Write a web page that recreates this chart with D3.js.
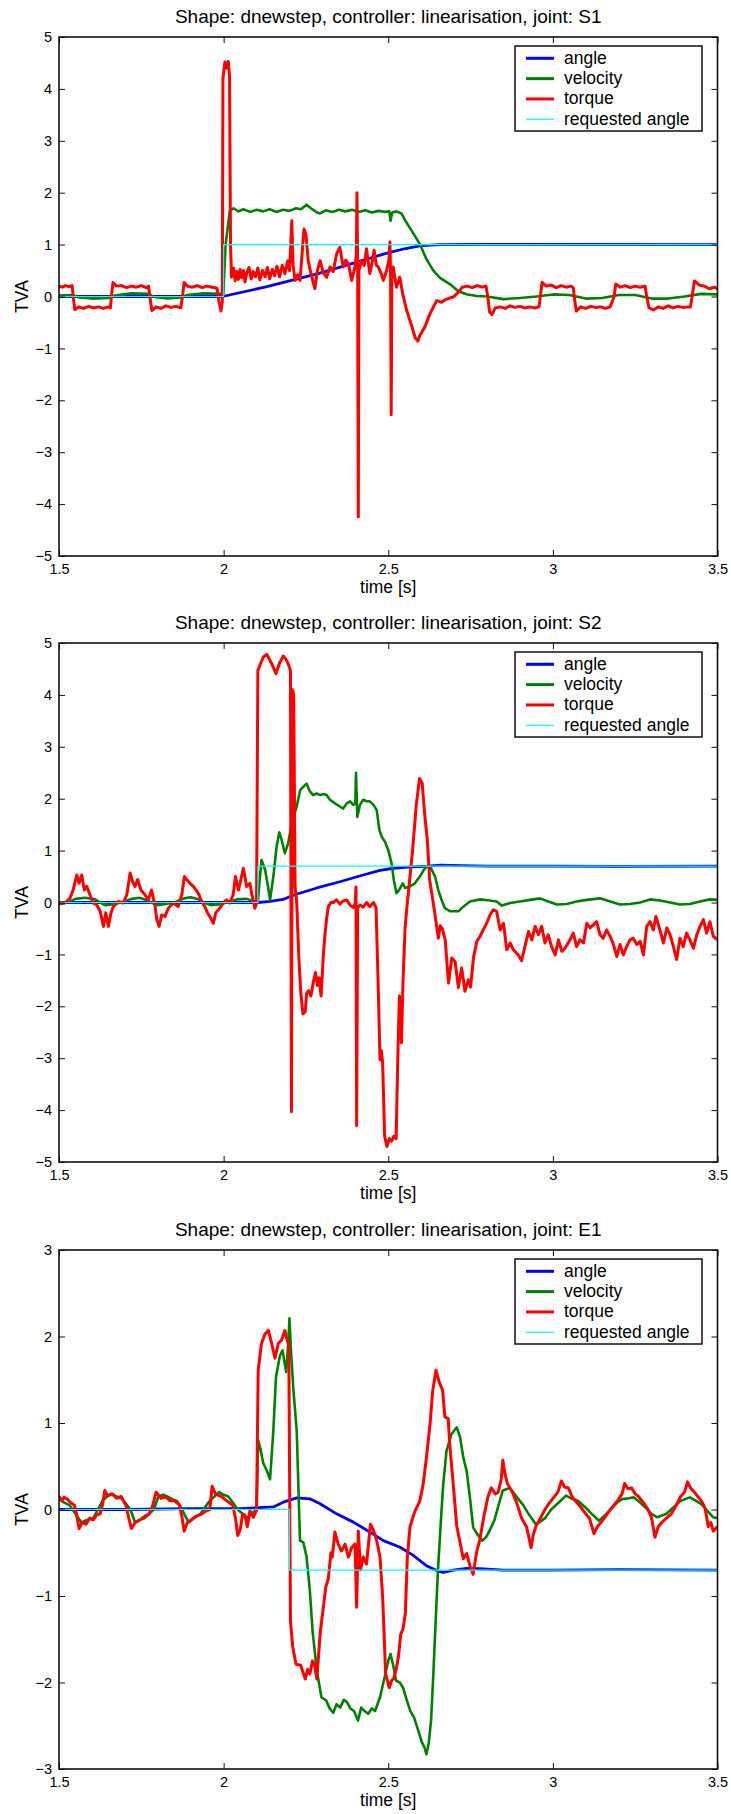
<!DOCTYPE html>
<html>
<head>
<meta charset="utf-8">
<script src="https://cdn.jsdelivr.net/npm/d3@7"></script>
<style>
  body { margin: 0; background: #fff; }
  svg { display: block; font-family: "Liberation Sans", Arial, Helvetica, sans-serif; }
</style>
</head>
<body>
<svg id="chart" width="731" height="1814"></svg>
<script>
// tick values
const timeTicks = [1.5, 2, 2.5, 3, 3.5];
const wideTicks = [-5, -4, -3, -2, -1, 0, 1, 2, 3, 4, 5];
const narrowTicks = [-3, -2, -1, 0, 1, 2, 3];
const seriesNames = ["angle", "velocity", "torque", "requested angle"];
const jointNames = ["S1", "S2", "E1"];

// joint S1, points are [time, value]
const s1Angle = [[1.5,0],[1.997,0],[2.125,0.18],[2.287,0.44],[2.387,0.63],[2.488,0.82],[2.549,0.92],[2.6,0.98],[2.66,1.0],[2.8,1.005],[3.5,1.0]];
const s1Velocity = [[1.5,0.02],[1.54,0.03],[1.56,-0.02],[1.6,-0.04],[1.65,-0.03],[1.67,0.02],[1.72,0.06],[1.77,0.05],[1.79,-0.01],[1.83,-0.04],[1.87,-0.02],[1.89,0.03],[1.94,0.06],[1.99,0.05],[1.999,0.02],[2.006,1.0],[2.019,1.66],
  [2.03,1.7],[2.045,1.64],[2.06,1.68],[2.08,1.63],[2.1,1.67],[2.12,1.64],[2.14,1.68],[2.16,1.63],[2.18,1.67],[2.2,1.65],[2.22,1.7],[2.235,1.68],[2.252,1.77],[2.265,1.7],[2.283,1.62],[2.293,1.6],[2.31,1.66],[2.33,1.63],[2.35,1.67],[2.37,1.64],[2.39,1.67],[2.41,1.63],[2.43,1.66],[2.45,1.62],[2.47,1.65],[2.49,1.63],[2.503,1.64],[2.507,1.46],[2.512,1.62],[2.525,1.64],[2.54,1.6],
  [2.551,1.47],[2.571,1.27],[2.596,1.01],[2.616,0.72],[2.637,0.5],[2.657,0.36],[2.687,0.24],[2.713,0.1],[2.74,0.04],[2.77,0.01],[2.8,0.0],[2.85,-0.05],[2.9,-0.03],[2.95,0.0],[3.0,0.04],[3.05,0.03],[3.1,-0.04],[3.15,-0.03],[3.2,0.03],[3.25,0.03],[3.3,-0.04],[3.35,-0.04],[3.4,0.0],[3.45,0.05],[3.5,0.04]];
const s1Torque = [[1.5,0.2],[1.51,0.18],[1.52,0.21],[1.53,0.19],[1.54,0.21],[1.544,-0.05],[1.548,-0.25],[1.56,-0.2],[1.575,-0.23],[1.59,-0.19],[1.605,-0.22],[1.62,-0.2],[1.635,-0.23],[1.65,-0.2],[1.656,-0.22],[1.66,0.05],[1.664,0.27],[1.675,0.2],[1.69,0.21],[1.705,0.17],[1.72,0.2],[1.735,0.18],[1.75,0.21],[1.765,0.17],[1.772,0.2],[1.777,-0.05],[1.782,-0.27],[1.795,-0.2],[1.81,-0.23],[1.825,-0.18],[1.84,-0.21],[1.855,-0.19],[1.87,-0.22],[1.876,0.05],[1.88,0.27],[1.89,0.2],[1.905,0.18],[1.92,0.21],[1.935,0.17],[1.95,0.2],[1.965,0.18],[1.98,0.16],[1.986,-0.1],[1.992,-0.28],[1.996,-0.1],
  [1.998,4.2],[2.004,4.52],[2.009,4.4],[2.014,4.53],[2.018,4.25],[2.021,1.0],[2.024,0.37],[2.03,0.55],[2.035,0.3],[2.04,0.48],[2.045,0.33],[2.05,0.52],[2.055,0.36],[2.06,0.5],[2.065,0.28],[2.07,0.45],[2.077,0.56],[2.084,0.34],[2.09,0.48],[2.097,0.38],[2.104,0.55],[2.11,0.32],[2.118,0.5],[2.126,0.38],[2.133,0.56],[2.14,0.34],[2.148,0.52],[2.155,0.4],[2.162,0.58],[2.17,0.38],[2.178,0.6],[2.186,0.44],[2.195,0.69],[2.2,0.5],[2.204,1.0],[2.207,1.46],[2.211,0.6],[2.217,0.31],[2.225,0.42],[2.232,0.31],[2.238,0.8],[2.244,1.3],[2.25,1.2],[2.257,0.69],[2.265,0.45],[2.277,0.15],[2.285,0.5],[2.293,0.69],[2.303,0.45],[2.313,0.37],[2.323,0.57],[2.333,0.48],[2.343,0.82],[2.353,0.95],[2.363,0.57],[2.371,0.7],[2.379,0.63],[2.389,0.31],[2.399,0.57],[2.403,0.8],[2.405,2.0],[2.407,0.6],[2.409,-4.25],[2.411,0.5],[2.419,0.69],[2.427,0.6],[2.434,0.92],[2.444,0.44],[2.451,0.65],[2.457,0.89],[2.464,0.6],[2.47,0.57],[2.478,0.45],[2.485,0.31],[2.495,0.5],[2.502,0.7],[2.505,1.05],[2.507,0.5],[2.509,-2.28],[2.511,0.45],[2.515,0.57],[2.525,0.18],[2.535,0.37],[2.544,0.05],[2.556,-0.27],[2.571,-0.56],[2.582,-0.8],[2.59,-0.86],[2.596,-0.75],[2.611,-0.59],[2.627,-0.33],[2.647,-0.08],[2.662,-0.11],[2.677,-0.05],[2.697,-0.01],[2.713,0.08],
  [2.725,0.18],[2.74,0.2],[2.755,0.17],[2.77,0.21],[2.785,0.18],[2.797,0.2],[2.802,0.0],[2.808,-0.3],[2.815,-0.35],[2.825,-0.22],[2.84,-0.2],[2.855,-0.23],[2.87,-0.18],[2.885,-0.21],[2.9,-0.19],[2.915,-0.22],[2.93,-0.2],[2.945,-0.22],[2.958,-0.2],[2.963,0.05],[2.967,0.27],[2.98,0.2],[2.995,0.22],[3.01,0.17],[3.025,0.21],[3.04,0.18],[3.055,0.2],[3.062,0.17],[3.066,-0.05],[3.071,-0.28],[3.085,-0.2],[3.1,-0.23],[3.115,-0.19],[3.13,-0.21],[3.145,-0.2],[3.16,-0.23],[3.174,-0.2],[3.186,0.0],[3.191,0.24],[3.205,0.18],[3.22,0.21],[3.235,0.17],[3.25,0.2],[3.265,0.18],[3.28,0.2],[3.285,0.0],[3.292,-0.22],[3.305,-0.26],[3.32,-0.2],[3.335,-0.23],[3.35,-0.18],[3.365,-0.22],[3.38,-0.19],[3.395,-0.21],[3.41,-0.2],[3.418,-0.2],[3.424,0.05],[3.43,0.3],[3.445,0.22],[3.46,0.2],[3.475,0.15],[3.49,0.18],[3.5,0.15]];
const s1Request = [[1.5,0],[2.0,0],[2.0,1],[3.5,1]];

// joint S2
const s2Angle = [[1.5,0],[1.8,0.0],[2.104,0.0],[2.141,0.02],[2.181,0.06],[2.216,0.15],[2.283,0.28],[2.353,0.40],[2.424,0.53],[2.475,0.62],[2.515,0.66],[2.56,0.68],[2.62,0.70],[2.66,0.72],[2.72,0.71],[2.8,0.70],[3.0,0.70],[3.2,0.695],[3.5,0.70]];
const s2Velocity = [[1.5,0],[1.53,0.01],[1.55,0.07],[1.58,0.09],[1.61,0.06],[1.625,0.0],[1.64,-0.05],[1.66,-0.04],[1.69,0.0],[1.72,0.07],[1.745,0.09],[1.765,0.05],[1.78,0.0],[1.8,-0.05],[1.825,-0.03],[1.85,0.0],[1.88,0.08],[1.9,0.1],[1.925,0.06],[1.94,0.0],[1.96,-0.05],[1.985,-0.04],[2.01,0.0],[2.04,0.06],[2.07,0.07],[2.09,0.03],[2.104,0.0],
  [2.109,0.4],[2.115,0.82],[2.126,0.63],[2.135,0.3],[2.141,0.05],[2.151,0.5],[2.161,1.08],[2.169,1.35],[2.176,1.21],[2.186,0.95],[2.196,1.14],[2.207,1.53],[2.222,1.85],[2.232,2.16],[2.242,2.23],[2.252,2.29],[2.262,2.14],[2.272,2.07],[2.283,2.1],[2.293,2.07],[2.303,2.09],[2.313,2.07],[2.323,1.98],[2.338,1.91],[2.353,1.85],[2.363,1.81],[2.374,1.91],[2.384,1.95],[2.394,1.88],[2.4,1.9],[2.402,2.5],[2.406,1.65],[2.414,1.88],[2.424,1.98],[2.434,1.95],[2.444,1.95],[2.455,1.88],[2.465,1.78],[2.473,1.4],[2.48,1.27],[2.49,1.17],[2.5,1.01],[2.51,0.76],[2.517,0.43],[2.525,0.18],[2.533,0.24],[2.544,0.37],[2.551,0.28],[2.566,0.31],[2.581,0.37],[2.596,0.5],[2.608,0.63],[2.622,0.73],[2.632,0.63],[2.642,0.5],[2.652,0.24],[2.662,0.05],[2.672,-0.11],[2.688,-0.17],[2.713,-0.17],[2.728,-0.08],[2.748,0.02],
  [2.779,0.06],[2.809,0.04],[2.829,0.02],[2.845,-0.06],[2.87,-0.01],[2.9,0.02],[2.931,0.05],[2.961,0.08],[2.986,0.02],[3.012,-0.04],[3.042,-0.03],[3.072,0.02],[3.103,0.05],[3.143,0.08],[3.174,0.02],[3.204,-0.04],[3.234,-0.03],[3.265,0.0],[3.295,0.06],[3.325,0.04],[3.356,0.0],[3.386,-0.04],[3.416,-0.03],[3.447,0.02],[3.477,0.06],[3.5,0.05]];
const s2Torque = [[1.5,-0.03],[1.518,-0.01],[1.533,0.08],[1.543,0.24],[1.554,0.53],[1.561,0.37],[1.569,0.53],[1.577,0.24],[1.584,0.31],[1.594,0.15],[1.604,-0.01],[1.614,-0.04],[1.625,-0.17],[1.635,-0.46],[1.642,-0.2],[1.65,-0.46],[1.658,-0.2],[1.665,-0.08],[1.68,0.02],[1.695,-0.01],[1.706,0.15],[1.716,0.57],[1.723,0.41],[1.731,0.31],[1.739,0.44],[1.749,0.24],[1.761,0.15],[1.771,0.05],[1.781,0.24],[1.792,-0.08],[1.797,-0.33],[1.804,-0.46],[1.812,-0.24],[1.822,-0.27],[1.832,-0.11],[1.847,-0.01],[1.862,-0.08],[1.873,0.15],[1.881,0.5],[1.888,0.44],[1.898,0.37],[1.908,0.31],[1.923,0.18],[1.933,0.02],[1.943,-0.08],[1.951,-0.2],[1.958,-0.27],[1.969,-0.4],[1.976,-0.2],[1.984,-0.14],[1.999,-0.01],[2.009,0.05],[2.019,-0.01],[2.029,0.15],[2.036,0.5],[2.045,0.24],[2.05,0.37],[2.06,0.66],[2.07,0.31],[2.08,0.37],[2.085,0.18],[2.095,-0.11],[2.1,-0.01],
  [2.104,4.47],[2.112,4.6],[2.121,4.73],[2.131,4.78],[2.138,4.7],[2.146,4.6],[2.159,4.41],[2.169,4.6],[2.181,4.75],[2.19,4.68],[2.196,4.6],[2.203,4.47],[2.206,-4.03],[2.209,4.1],[2.213,4.0],[2.217,0.3],[2.222,0.0],[2.228,-1.0],[2.234,-1.7],[2.241,-2.15],[2.248,-2.1],[2.252,-1.75],[2.258,-1.7],[2.265,-1.8],[2.272,-1.55],[2.279,-1.35],[2.285,-1.6],[2.29,-1.45],[2.296,-1.8],[2.303,-1.0],[2.308,-0.6],[2.313,-0.3],[2.318,-0.08],[2.326,0.0],[2.333,0.0],[2.343,0.05],[2.353,-0.03],[2.363,0.03],[2.374,0.05],[2.384,-0.05],[2.394,-0.1],[2.4,0.0],[2.402,0.3],[2.404,-4.3],[2.407,-0.1],[2.414,-0.05],[2.424,-0.09],[2.434,0.0],[2.444,-0.08],[2.455,0.0],[2.463,-0.1],[2.469,-1.5],[2.475,-3.03],[2.479,-2.85],[2.483,-3.1],[2.489,-4.5],[2.496,-4.7],[2.503,-4.55],[2.51,-4.6],[2.517,-4.5],[2.524,-4.55],[2.529,-3.0],[2.534,-1.8],[2.54,-2.7],[2.545,-1.5],[2.551,-0.5],[2.558,0.0],[2.566,0.5],[2.574,1.01],[2.585,1.87],[2.595,2.39],[2.603,2.3],[2.61,1.75],[2.619,1.18],[2.626,0.42],[2.634,0.1],[2.642,-0.23],[2.647,-0.46],[2.652,-0.69],[2.658,-0.45],[2.664,-0.5],[2.673,-0.72],[2.683,-1.55],[2.693,-1.07],[2.703,-1.14],[2.713,-1.64],[2.723,-1.26],[2.733,-1.71],[2.743,-1.49],[2.75,-1.63],[2.759,-1.06],
  [2.769,-0.75],[2.779,-0.65],[2.789,-0.52],[2.799,-0.4],[2.809,-0.24],[2.819,-0.14],[2.829,-0.17],[2.84,-0.53],[2.85,-0.4],[2.86,-0.91],[2.87,-0.78],[2.88,-0.91],[2.895,-1.01],[2.905,-1.12],[2.915,-0.85],[2.926,-0.56],[2.936,-0.72],[2.946,-0.46],[2.956,-0.62],[2.966,-0.46],[2.976,-0.78],[2.986,-0.62],[2.996,-0.85],[3.007,-1.01],[3.017,-0.72],[3.027,-0.94],[3.037,-0.88],[3.052,-0.72],[3.062,-0.59],[3.072,-0.85],[3.082,-0.72],[3.093,-0.78],[3.103,-0.4],[3.113,-0.49],[3.123,-0.43],[3.133,-0.37],[3.143,-0.62],[3.153,-0.69],[3.163,-0.53],[3.174,-0.65],[3.184,-0.81],[3.194,-1.04],[3.204,-0.81],[3.214,-1.01],[3.224,-0.85],[3.234,-0.72],[3.244,-0.69],[3.255,-0.81],[3.265,-0.75],[3.275,-1.01],[3.285,-0.46],[3.295,-0.37],[3.305,-0.53],[3.313,-0.27],[3.325,-0.53],[3.336,-0.78],[3.346,-0.49],[3.356,-0.62],[3.366,-0.85],[3.376,-1.1],[3.386,-0.69],[3.396,-0.85],[3.406,-0.59],[3.416,-0.72],[3.427,-0.88],[3.437,-0.62],[3.447,-0.46],[3.457,-0.33],[3.467,-0.59],[3.477,-0.37],[3.487,-0.65],[3.5,-0.72]];
const s2Request = [[1.5,0],[2.104,0],[2.104,0.7],[3.5,0.7]];

// joint E1
const e1Angle = [[1.5,0.0],[1.7,0.0],[1.9,0.01],[2.05,0.01],[2.151,0.03],[2.181,0.085],[2.222,0.135],[2.262,0.124],[2.293,0.066],[2.343,-0.05],[2.394,-0.146],[2.444,-0.26],[2.485,-0.36],[2.536,-0.437],[2.576,-0.53],[2.616,-0.65],[2.652,-0.715],[2.667,-0.726],[2.697,-0.7],[2.738,-0.68],[2.778,-0.685],[2.85,-0.7],[3.0,-0.7],[3.2,-0.695],[3.5,-0.7]];
const e1Velocity = [[1.5,0.12],[1.516,0.08],[1.532,0.05],[1.55,-0.05],[1.568,-0.15],[1.585,-0.12],[1.604,-0.1],[1.618,0.0],[1.632,0.1],[1.646,0.15],[1.661,0.18],[1.675,0.15],[1.689,0.13],[1.703,0.07],[1.717,0.0],[1.731,-0.15],[1.745,-0.12],[1.76,-0.1],[1.774,-0.05],[1.788,0.0],[1.802,0.15],[1.816,0.17],[1.83,0.15],[1.844,0.12],[1.858,0.1],[1.87,0.03],[1.88,-0.05],[1.894,-0.15],[1.91,-0.1],[1.93,-0.05],[1.944,0.03],[1.958,0.1],[1.972,0.15],[1.986,0.2],[2.0,0.17],[2.014,0.15],[2.028,0.08],[2.043,0.0],[2.057,-0.05],[2.071,-0.1],[2.085,-0.05],[2.1,0.0],
  [2.105,0.8],[2.112,0.7],[2.12,0.54],[2.131,0.45],[2.141,0.35],[2.151,0.91],[2.159,1.53],[2.171,1.78],[2.179,1.84],[2.19,1.59],[2.196,1.9],[2.2,2.21],[2.205,1.8],[2.212,1.38],[2.222,0.91],[2.232,-0.36],[2.242,-0.38],[2.252,-0.55],[2.262,-0.94],[2.27,-1.4],[2.283,-1.86],[2.297,-2.17],[2.312,-2.21],[2.322,-2.3],[2.333,-2.35],[2.343,-2.25],[2.354,-2.29],[2.365,-2.2],[2.375,-2.23],[2.385,-2.3],[2.396,-2.33],[2.408,-2.44],[2.418,-2.29],[2.428,-2.33],[2.439,-2.36],[2.45,-2.3],[2.46,-2.33],[2.475,-2.17],[2.489,-1.94],[2.5,-1.75],[2.507,-1.67],[2.515,-1.8],[2.524,-1.98],[2.535,-2.0],[2.545,-2.06],[2.556,-2.2],[2.567,-2.33],[2.578,-2.4],[2.588,-2.52],[2.602,-2.69],[2.61,-2.75],[2.616,-2.83],[2.623,-2.7],[2.63,-2.44],[2.637,-1.9],[2.644,-1.29],[2.651,-0.7],[2.658,-0.25],[2.662,0.0],[2.667,0.29],[2.677,0.68],[2.692,0.87],[2.708,0.95],[2.718,0.84],[2.728,0.6],[2.738,0.45],[2.748,0.14],[2.758,-0.21],[2.773,-0.3],[2.786,-0.36],[2.797,-0.32],[2.807,-0.25],[2.822,-0.13],[2.835,0.05],[2.848,0.22],[2.869,0.25],[2.891,0.14],[2.91,0.05],[2.926,-0.05],[2.948,-0.17],[2.962,-0.14],[2.976,-0.1],[2.995,0.0],[3.012,0.06],[3.04,0.16],[3.06,0.12],[3.076,0.1],[3.1,0.02],[3.118,-0.05],[3.14,-0.13],[3.16,-0.06],[3.175,0.0],[3.195,0.08],[3.21,0.12],[3.23,0.13],[3.246,0.14],[3.265,0.08],[3.282,0.02],[3.3,-0.05],[3.317,-0.09],[3.345,-0.05],[3.365,0.02],[3.388,0.1],[3.416,0.14],[3.435,0.1],[3.452,0.06],[3.47,-0.02],[3.487,-0.09],[3.5,-0.1]];
const e1Torque = [[1.5,0.15],[1.51,0.1],[1.515,0.14],[1.525,0.12],[1.535,0.08],[1.547,0.05],[1.553,-0.05],[1.561,-0.22],[1.57,-0.15],[1.582,-0.17],[1.593,-0.1],[1.604,-0.12],[1.615,-0.06],[1.625,-0.05],[1.632,0.05],[1.639,0.22],[1.648,0.16],[1.661,0.18],[1.675,0.13],[1.689,0.15],[1.703,0.05],[1.712,-0.1],[1.72,-0.22],[1.732,-0.15],[1.746,-0.12],[1.76,-0.08],[1.774,-0.05],[1.785,0.05],[1.795,0.2],[1.81,0.13],[1.823,0.15],[1.837,0.1],[1.851,0.1],[1.866,0.05],[1.874,-0.1],[1.88,-0.25],[1.89,-0.15],[1.901,-0.12],[1.915,-0.08],[1.93,-0.06],[1.945,-0.02],[1.958,0.0],[1.965,0.27],[1.975,0.18],[1.993,0.15],[2.01,0.1],[2.028,0.05],[2.036,-0.1],[2.043,-0.3],[2.05,-0.24],[2.058,-0.05],[2.065,-0.07],[2.072,-0.2],[2.08,-0.01],[2.09,-0.09],[2.1,-0.01],
  [2.105,1.61],[2.115,1.92],[2.126,2.03],[2.136,2.07],[2.146,1.92],[2.156,1.75],[2.166,1.92],[2.176,1.96],[2.186,2.07],[2.193,1.96],[2.198,1.9],[2.203,-1.29],[2.21,-1.59],[2.22,-1.79],[2.234,-1.8],[2.248,-1.96],[2.255,-1.85],[2.262,-1.9],[2.27,-1.75],[2.276,-1.79],[2.283,-1.96],[2.294,-1.4],[2.304,-1.1],[2.31,-0.9],[2.318,-0.8],[2.326,-0.5],[2.33,-0.55],[2.338,-0.26],[2.348,-0.4],[2.358,-0.48],[2.369,-0.4],[2.379,-0.55],[2.389,-0.44],[2.399,-0.4],[2.404,-1.13],[2.409,-0.25],[2.416,-0.7],[2.424,-0.55],[2.434,-0.63],[2.446,-0.17],[2.455,-0.24],[2.465,-0.36],[2.475,-0.55],[2.483,-1.01],[2.487,-1.4],[2.492,-1.9],[2.503,-2.06],[2.51,-1.98],[2.517,-1.95],[2.524,-1.85],[2.531,-1.7],[2.538,-1.44],[2.545,-1.38],[2.552,-1.2],[2.558,-0.55],[2.566,-0.2],[2.58,-0.03],[2.596,0.1],[2.606,0.29],[2.616,0.6],[2.627,0.99],[2.635,1.37],[2.645,1.61],[2.655,1.47],[2.665,1.38],[2.672,1.07],[2.682,1.05],[2.687,0.74],[2.697,0.31],[2.708,-0.19],[2.718,-0.38],[2.728,-0.57],[2.738,-0.51],[2.748,-0.65],[2.758,-0.75],[2.768,-0.5],[2.778,-0.35],
  [2.792,-0.05],[2.803,0.15],[2.813,0.25],[2.825,0.18],[2.834,0.2],[2.843,0.35],[2.848,0.57],[2.855,0.4],[2.862,0.3],[2.877,0.2],[2.89,0.08],[2.905,-0.1],[2.92,-0.2],[2.934,-0.44],[2.94,-0.3],[2.948,-0.2],[2.962,-0.1],[2.976,0.0],[2.99,0.08],[3.005,0.15],[3.015,0.2],[3.026,0.33],[3.035,0.26],[3.047,0.25],[3.058,0.15],[3.068,0.1],[3.08,0.05],[3.09,0.0],[3.1,-0.05],[3.111,-0.1],[3.125,-0.28],[3.135,-0.2],[3.146,-0.15],[3.16,-0.08],[3.175,0.0],[3.196,0.1],[3.21,0.18],[3.218,0.3],[3.228,0.24],[3.239,0.25],[3.25,0.18],[3.26,0.15],[3.275,0.08],[3.289,0.0],[3.3,-0.1],[3.31,-0.32],[3.32,-0.2],[3.331,-0.15],[3.345,-0.1],[3.36,-0.05],[3.375,0.05],[3.388,0.15],[3.4,0.2],[3.409,0.32],[3.418,0.25],[3.43,0.2],[3.44,0.15],[3.451,0.1],[3.462,0.02],[3.472,-0.2],[3.48,-0.15],[3.487,-0.25],[3.5,-0.2]];
const e1Request = [[1.5,0],[2.2,0],[2.2,-0.7],[3.5,-0.7]];

const colors = ["#0000ff", "#008000", "#ff0000", "#00ffff"];
const widths = [2.8, 2.6, 3.0, 1.2];

var panels = [
    { joint: jointNames[0], ticks: wideTicks, series: [s1Angle, s1Velocity, s1Torque, s1Request] },
    { joint: jointNames[1], ticks: wideTicks, series: [s2Angle, s2Velocity, s2Torque, s2Request] },
    { joint: jointNames[2], ticks: narrowTicks, series: [e1Angle, e1Velocity, e1Torque, e1Request] }
];

var svg = d3.select("#chart");
var left = 59, right = 717.5, plotH = 519;
var panelTops = [37, 643, 1250];
var midX = (left + right) / 2;

var x = d3.scaleLinear().domain([1.5, 3.5]).range([left, right]);
var fmt = d3.format("");

function styleAxis(sel) {
    sel.attr("font-family", null).attr("font-size", 14.5);
    sel.select(".domain").remove();
    sel.selectAll(".tick line").attr("stroke", "#111").attr("stroke-width", 1);
    sel.selectAll(".tick text").attr("fill", "#000");
}

panels.forEach(function(p, i) {
    var top = panelTops[i];
    var bottom = top + plotH;
    var y = d3.scaleLinear().domain(d3.extent(p.ticks)).range([bottom, top]);
    var g = svg.append("g");

    g.append("clipPath").attr("id", "clip" + i)
        .append("rect")
        .attr("x", left).attr("y", top)
        .attr("width", right - left).attr("height", plotH);

    var line = d3.line()
        .x(function(d) { return x(d[0]); })
        .y(function(d) { return y(d[1]); });

    p.series.forEach(function(s, k) {
        g.append("path")
            .datum(s)
            .attr("clip-path", "url(#clip" + i + ")")
            .attr("fill", "none")
            .attr("stroke", colors[k])
            .attr("stroke-width", widths[k])
            .attr("stroke-linejoin", "round")
            .attr("d", line);
    });

    // ticks on all four sides, pointing in
    g.append("g").attr("transform", "translate(0," + bottom + ")")
        .call(d3.axisBottom(x).tickValues(timeTicks).tickFormat(fmt).tickSize(-6).tickPadding(8))
        .call(styleAxis);
    g.append("g").attr("transform", "translate(0," + top + ")")
        .call(d3.axisTop(x).tickValues(timeTicks).tickFormat("").tickSize(-6))
        .call(styleAxis);
    g.append("g").attr("transform", "translate(" + left + ",0)")
        .call(d3.axisLeft(y).tickValues(p.ticks).tickFormat(fmt).tickSize(-6).tickPadding(7))
        .call(styleAxis);
    g.append("g").attr("transform", "translate(" + right + ",0)")
        .call(d3.axisRight(y).tickValues(p.ticks).tickFormat("").tickSize(-6))
        .call(styleAxis);

    g.append("rect")
        .attr("x", left).attr("y", top)
        .attr("width", right - left).attr("height", plotH)
        .attr("fill", "none")
        .attr("stroke", "#111")
        .attr("stroke-width", 1.6);

    g.append("text")
        .attr("x", midX).attr("y", top - 14)
        .attr("text-anchor", "middle")
        .attr("font-size", 19)
        .text("Shape: dnewstep, controller: linearisation, joint: " + p.joint);

    g.append("text")
        .attr("x", midX).attr("y", bottom + 37)
        .attr("text-anchor", "middle")
        .attr("font-size", 17.5)
        .text("time [s]");

    g.append("text")
        .attr("transform", "translate(28," + (top + plotH / 2) + ") rotate(-90)")
        .attr("text-anchor", "middle")
        .attr("font-size", 17.5)
        .text("TVA");

    // legend
    var lg = g.append("g").attr("transform", "translate(515," + (top + 9) + ")");
    lg.append("rect")
        .attr("width", 187).attr("height", 85)
        .attr("fill", "#fff")
        .attr("stroke", "#111")
        .attr("stroke-width", 1.5);
    seriesNames.forEach(function(name, k) {
        var ly = 12.3 + 20.33 * k;
        lg.append("line")
            .attr("x1", 11).attr("x2", 39)
            .attr("y1", ly).attr("y2", ly)
            .attr("stroke", colors[k])
            .attr("stroke-width", k < 3 ? 3 : 1.2);
        lg.append("text")
            .attr("x", 49).attr("y", ly + 5.5)
            .attr("font-size", 17.5)
            .text(name);
    });
});
</script>
</body>
</html>
